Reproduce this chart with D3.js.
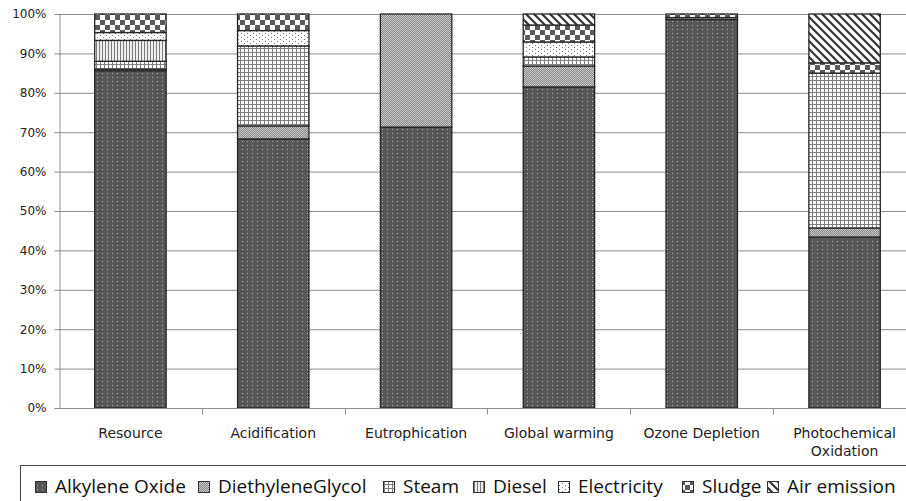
<!DOCTYPE html>
<html><head><meta charset="utf-8">
<script src="https://cdn.jsdelivr.net/npm/d3@7"></script>
<style>html,body{margin:0;padding:0;background:#fff;overflow:hidden}</style>
</head><body>
<svg id="c" width="906" height="501"></svg>
<script>
const categories = ["Resource","Acidification","Eutrophication","Global warming","Ozone Depletion","Photochemical Oxidation"];
const seriesNames = ["Alkylene Oxide","DiethyleneGlycol","Steam","Diesel","Electricity","Sludge","Air emission"];
const alkyleneOxide    = [85.6, 68.3, 71.3, 81.5, 98.6, 43.4];
const diethyleneGlycol = [0.4, 3.3, 28.7, 5.3, 0.5, 2.3];
const steam            = [2.0, 20.3, 0, 2.3, 0, 39.3];
const diesel           = [5.3, 0, 0, 0, 0, 0];
const electricity      = [2.0, 3.9, 0, 3.8, 0, 0];
const sludge           = [4.7, 4.2, 0, 4.3, 0.9, 2.6];
const airEmission      = [0, 0, 0, 2.8, 0, 12.4];
const yTicks = [0,10,20,30,40,50,60,70,80,90,100];

const seriesValues = [alkyleneOxide, diethyleneGlycol, steam, diesel, electricity, sludge, airEmission];
const patIds = ["pAlk","pDeg","pSteam","pDiesel","pElec","pSludge","pAir"];
// legend layout (text start x of each item)
const legendTextX = [55, 218, 403, 493, 578, 702, 787];

const svg = d3.select("#c");
const defs = svg.append("defs");
function pat(id, w, h, draw){
  const p = defs.append("pattern").attr("id", id).attr("patternUnits","userSpaceOnUse")
    .attr("width", w).attr("height", h);
  draw(p);
}
pat("pAlk", 5, 4, p => {
  p.append("rect").attr("width",5).attr("height",4).attr("fill","#575757");
  p.append("rect").attr("x",2).attr("y",1).attr("width",1).attr("height",1).attr("fill","#b8b8b8");
});
pat("pDeg", 2, 2, p => {
  p.append("rect").attr("width",2).attr("height",2).attr("fill","#848484");
  p.append("rect").attr("x",0).attr("y",0).attr("width",1).attr("height",1).attr("fill","#cccccc");
  p.append("rect").attr("x",1).attr("y",1).attr("width",1).attr("height",1).attr("fill","#cccccc");
});
pat("pSteam", 4, 4, p => {
  p.append("rect").attr("width",4).attr("height",4).attr("fill","#fff");
  p.append("rect").attr("x",0).attr("y",0).attr("width",4).attr("height",1).attr("fill","#7d7d7d");
  p.append("rect").attr("x",0).attr("y",0).attr("width",1).attr("height",4).attr("fill","#7d7d7d");
});
pat("pDiesel", 3, 3, p => {
  p.append("rect").attr("width",3).attr("height",3).attr("fill","#f0f0f0");
  p.append("rect").attr("x",0).attr("y",0).attr("width",1).attr("height",3).attr("fill","#7a7a7a");
});
pat("pElec", 6, 4, p => {
  p.append("rect").attr("width",6).attr("height",4).attr("fill","#fff");
  p.append("rect").attr("x",1).attr("y",1).attr("width",1).attr("height",1).attr("fill","#777");
  p.append("rect").attr("x",4).attr("y",3).attr("width",1).attr("height",1).attr("fill","#777");
});
pat("pSludge", 10, 10, p => {
  p.append("rect").attr("width",10).attr("height",10).attr("fill","#fff");
  p.append("rect").attr("x",0).attr("y",0).attr("width",5).attr("height",5).attr("fill","#5a5a5a");
  p.append("rect").attr("x",5).attr("y",5).attr("width",5).attr("height",5).attr("fill","#5a5a5a");
});
pat("pAir", 8, 8, p => {
  p.append("rect").attr("width",8).attr("height",8).attr("fill","#fff");
  p.append("path").attr("d","M-2,-2 L10,10 M-2,6 L2,10 M6,-2 L10,2").attr("stroke","#333").attr("stroke-width",2.2);
});

const margin = {left:59, top:14, bottom:408, right:916};
const x = d3.scaleBand().domain(categories).range([margin.left, margin.right]).paddingInner(0.5).paddingOuter(0.25);
const y = d3.scaleLinear().domain([0,100]).range([margin.bottom, margin.top]);

// gridlines
svg.append("g").selectAll("line").data(yTicks.filter(t=>t>0)).join("line")
  .attr("x1", margin.left).attr("x2", 906)
  .attr("y1", d=>y(d)+0.5).attr("y2", d=>y(d)+0.5)
  .attr("stroke","#8c8c8c").attr("stroke-width",1);

// stacked bars
const table = categories.map((c,i)=>{ const o={cat:c}; seriesNames.forEach((s,j)=>o[s]=seriesValues[j][i]); return o; });
const stack = d3.stack().keys(seriesNames)(table);
const gBars = svg.append("g");
stack.forEach((layer, j) => {
  gBars.append("g").selectAll("rect").data(layer.filter(d=>d[1]-d[0]>0)).join("rect")
    .attr("x", d=>x(d.data.cat))
    .attr("width", x.bandwidth())
    .attr("y", d=>y(d[1]))
    .attr("height", d=>y(d[0])-y(d[1]))
    .attr("fill", `url(#${patIds[j]})`)
    .attr("stroke","#262626").attr("stroke-width",1.3);
});

// y axis
const yAxis = svg.append("g").attr("transform",`translate(${margin.left+0.5},0)`)
  .call(d3.axisLeft(y).tickValues(yTicks).tickFormat(d=>d+"%").tickSizeInner(5).tickSizeOuter(0).tickPadding(8));
yAxis.select(".domain").attr("stroke","#8c8c8c");
yAxis.selectAll(".tick line").attr("stroke","#8c8c8c");
yAxis.selectAll("text").attr("font-family","DejaVu Sans").attr("font-size",12).attr("fill","#222");

// x axis
const xg = svg.append("g").attr("transform",`translate(0,${margin.bottom+0.5})`);
xg.append("line").attr("x1",margin.left).attr("x2",906).attr("stroke","#8c8c8c");
const step = x.step();
const bounds = d3.range(1, categories.length).map(i => x(categories[i]) - step*0.25);
xg.selectAll(".tk").data(bounds).join("line").attr("class","tk")
  .attr("x1",d=>Math.round(d)+0.5).attr("x2",d=>Math.round(d)+0.5).attr("y1",0).attr("y2",6)
  .attr("stroke","#8c8c8c");
const labels = xg.selectAll(".lbl").data(categories).join("text").attr("class","lbl")
  .attr("text-anchor","middle")
  .attr("font-family","DejaVu Sans").attr("font-size",14).attr("fill","#222")
  .attr("transform", d=>`translate(${x(d)+x.bandwidth()/2},29)`);
labels.each(function(d){
  const words = d === "Photochemical Oxidation" ? ["Photochemical","Oxidation"] : [d];
  d3.select(this).selectAll("tspan").data(words).join("tspan")
    .attr("x",0).attr("dy",(w,i)=> i===0 ? 0 : 18).text(w=>w);
});

// legend
const lg = svg.append("g");
lg.append("rect").attr("x",20.5).attr("y",465.5).attr("width",900).attr("height",50)
  .attr("fill","#fff").attr("stroke","#444").attr("stroke-width",1);
seriesNames.forEach((s,j)=>{
  const tx = legendTextX[j];
  lg.append("rect").attr("x",tx-20+0.5).attr("y",481.5).attr("width",11).attr("height",11)
    .attr("fill",`url(#${patIds[j]})`).attr("stroke","#333").attr("stroke-width",1);
  lg.append("text").attr("x",tx).attr("y",493)
    .attr("font-family","Open Sans").attr("font-size",19).attr("fill","#111").text(s);
});
</script>
</body></html>
